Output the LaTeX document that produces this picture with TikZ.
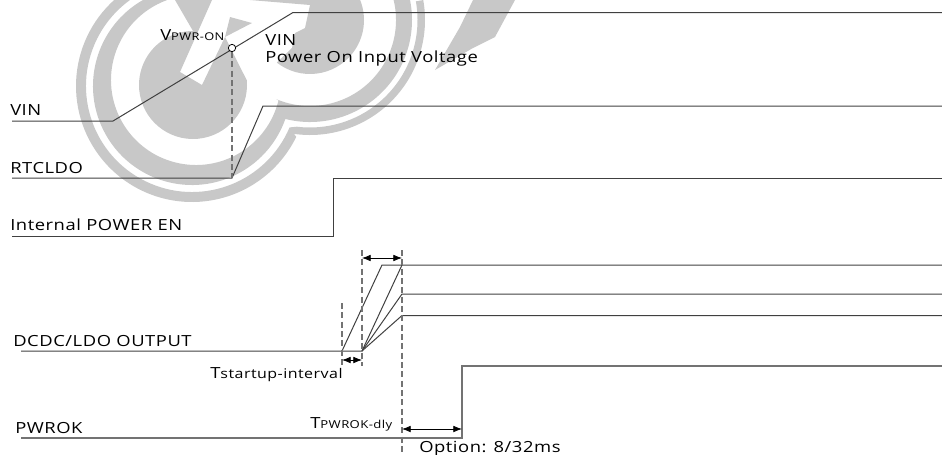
\documentclass[tikz,border=0pt]{standalone}
\usepackage{fontspec}
\setmainfont[LetterSpace=3.5,FakeStretch=1.2]{Open Sans}
\usepackage{xcolor}
\usepackage{tikz}
\usetikzlibrary{arrows.meta, positioning, calc}
\definecolor{logogray}{HTML}{C8C8C8}
\definecolor{wavegray}{HTML}{404040}

\begin{document}
\begin{tikzpicture}[
    x=0.75pt, y=-0.75pt,
    font=\fontsize{11.5}{13}\selectfont,
    logo/.style={fill=logogray, draw=none},
    wave/.style={draw=wavegray, line width=0.75pt},
    wavelt/.style={draw=gray!90!black, line width=1.1pt},
    guide/.style={draw=gray!90!black, line width=0.9pt, dashed, dash pattern=on 4.5pt off 2.5pt},
    span/.style={draw=black, line width=0.6pt, {Latex[length=6.5pt,width=5pt]}-{Latex[length=6.5pt,width=5pt]}},
    lab/.style={anchor=base west, inner sep=0pt, text=black}
]
    \useasboundingbox (0,0) rectangle (942,454);

    % Watermark
    \coordinate (logoL) at (192,86);
    \coordinate (logoM) at (196,80);
    \coordinate (logoB) at (193,85);
    \coordinate (logoR) at (310,20);
    \begin{scope}
    \clip (0,0) rectangle (942,454);
    \fill[logo] ($(logoL)+(228:116)$) arc[start angle=228, end angle=26, radius=116]
        -- ($(logoR)+(98:115)$) arc[start angle=98, end angle=-10, radius=115]
        -- ($(logoR)+(-10:107.5)$) arc[start angle=-10, end angle=97, radius=107.5]
        -- ($(logoL)+(23:106)$) arc[start angle=23, end angle=234, radius=106] -- cycle;
    \fill[logo] ($(logoL)+(241:99)$) arc[start angle=241, end angle=19, radius=99]
        -- ($(logoR)+(105:102)$) arc[start angle=105, end angle=-12, radius=102]
        -- ($(logoR)+(-14:86)$) arc[start angle=-14, end angle=113, radius=86]
        -- ($(logoM)+(14:85)$) arc[start angle=14, end angle=250, radius=85] -- cycle;
    \fill[logo] (175,0) -- (212,0) -- (180,72) -- (202,85) -- (225,37)
        -- ($(logoB)+(-5:54)$) arc[start angle=-5, end angle=270, radius=54] -- cycle;
    \fill[logo] (230,17) -- (252,23) -- (225,37) -- cycle;
    \fill[logo] (250,0) -- (310,5) -- (305,28) -- (295,33) -- (292,48)
        -- ($(logoR)+(128:54)$) arc[start angle=128, end angle=-22, radius=54] -- cycle;
    \fill[logo] (473,0) -- (515,0) -- (495,37) -- (473,48) -- (435,70) -- (460,27) -- cycle;
    \end{scope}

    % Points of the waves
    \coordinate (vinA) at (12,121);
    \coordinate (vinB) at (113,121);
    \coordinate (vinC) at (293,12.5);
    \coordinate (vinD) at (942,12.5);
    \coordinate (rtcA) at (12,178);
    \coordinate (rtcB) at (232,178);
    \coordinate (rtcC) at (263,106);
    \coordinate (rtcD) at (942,106);
    \coordinate (intA) at (12,236);
    \coordinate (intB) at (333,236);
    \coordinate (intC) at (333,178.5);
    \coordinate (intD) at (942,178.5);
    \coordinate (dcA) at (21,351);
    \coordinate (dcB) at (342,351);
    \coordinate (dcC) at (362,351);
    \coordinate (dcD) at (382,265);
    \coordinate (dcE) at (402,265);
    \coordinate (dcF) at (402,294);
    \coordinate (dcG) at (402,315.5);
    \coordinate (dcH) at (942,265);
    \coordinate (dcI) at (942,294);
    \coordinate (dcJ) at (942,315.5);
    \coordinate (pwrA) at (21,438);
    \coordinate (pwrB) at (462,438);
    \coordinate (pwrC) at (462,366);
    \coordinate (pwrD) at (942,366);

    % Waves
    \draw[wave] (vinA) -- (vinB) -- (vinC) -- (vinD);
    \draw[wave] (rtcA) -- (rtcB) -- (rtcC) -- (rtcD);
    \draw[wave] (intA) -- (intB) -- (intC) -- (intD);
    \draw[wave] (dcA) -- (dcB) -- (dcD) -- (dcH);
    \draw[wave] (dcB) -- (dcC) -- (dcE);
    \draw[wave] (dcC) -- (dcF) -- (dcI);
    \draw[wave] (dcC) -- (dcG) -- (dcJ);
    \draw[wavelt] (pwrA) -- (pwrB) -- (pwrC) -- (pwrD);

    % Guides
    \node[circle, draw=black, fill=white, line width=0.6pt, minimum size=5.5pt, inner sep=0pt] (von) at (232,48) {};
    \draw[guide] (von) -- (rtcB);
    \coordinate (gdA) at (342,303);
    \coordinate (gdB) at (342,365);
    \coordinate (gdC) at (362,250);
    \coordinate (gdD) at (362,366);
    \coordinate (gdE) at (402,250);
    \coordinate (gdF) at (402,454);
    \draw[guide] (gdA) -- (gdB);
    \draw[guide] (gdC) -- (gdD);
    \draw[guide] (gdE) -- (gdF);

    % Spans
    \coordinate (spA) at (362,258);
    \coordinate (spB) at (402,258);
    \coordinate (spC) at (342,360);
    \coordinate (spD) at (362,360);
    \coordinate (spE) at (402,429);
    \coordinate (spF) at (462,429);
    \draw[span] (spA) -- (spB);
    \draw[span] (spC) -- (spD);
    \draw[span] (spE) -- (spF);

    % Labels
    \node[lab] (vinlab) at (10,115.5) {VIN};
    \node[lab] (rtclab) at (10,173) {RTCLDO};
    \node[lab] (intlab) at (10,230.5) {Internal POWER EN};
    \node[lab] (dclab) at (13,346) {DCDC/LDO OUTPUT};
    \node[lab] (pwrlab) at (15,433) {PWROK};
    \node[lab] (vonlab) at (160,40) {V{\fontsize{8}{10}\selectfont PWR-ON}};
    \node[lab] (vinnote) at (265,45) {VIN};
    \node[lab] (vintxt) at (265,62) {Power On Input Voltage};
    \node[lab] (tstart) at (210,378) {T{\fontsize{10}{11}\selectfont startup-interval}};
    \node[lab] (tpwr) at (310,428) {T{\fontsize{8.2}{10}\selectfont PWROK-dly}};
    \node[lab] (optlab) at (419,452) {Option: 8/32ms};
\end{tikzpicture}
\end{document}
